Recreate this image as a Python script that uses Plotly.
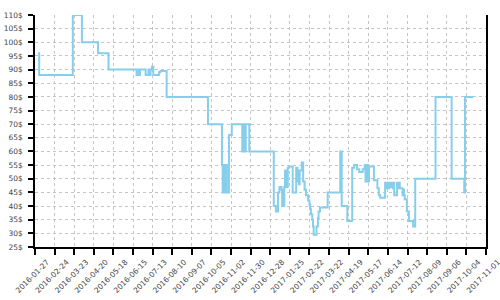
import plotly.graph_objects as go

dates = [
"2016-01-31","2016-02-02","2016-03-21","2016-04-03","2016-04-26","2016-05-11",
"2016-06-20","2016-06-21","2016-06-22","2016-06-23","2016-06-24","2016-06-25",
"2016-07-03","2016-07-07","2016-07-09","2016-07-10","2016-07-12","2016-07-14",
"2016-07-22","2016-07-24","2016-08-02","2016-09-30",
"2016-10-20","2016-10-21","2016-10-22","2016-10-23","2016-10-24","2016-10-25","2016-10-26","2016-10-27",
"2016-10-30","2016-11-03",
"2016-11-18","2016-11-19","2016-11-20","2016-11-21","2016-11-22","2016-11-23","2016-11-28",
"2017-01-02","2017-01-05","2017-01-08","2017-01-10","2017-01-13","2017-01-14","2017-01-15","2017-01-16",
"2017-01-17","2017-01-18","2017-01-19","2017-01-20","2017-01-21","2017-01-22","2017-01-24","2017-01-29",
"2017-02-03","2017-02-05","2017-02-06","2017-02-07","2017-02-08","2017-02-11","2017-02-13","2017-02-15",
"2017-02-17","2017-02-20","2017-02-22","2017-02-23","2017-02-24","2017-02-26","2017-02-27","2017-02-28",
"2017-03-04","2017-03-06","2017-03-07","2017-03-09","2017-03-20","2017-04-07","2017-04-09","2017-04-17",
"2017-04-24","2017-04-27","2017-05-01","2017-05-04","2017-05-09","2017-05-12","2017-05-13","2017-05-14",
"2017-05-15","2017-05-16","2017-05-17","2017-05-18","2017-05-25","2017-05-30","2017-06-01","2017-06-03",
"2017-06-10","2017-06-12","2017-06-13","2017-06-15","2017-06-16","2017-06-18","2017-06-19","2017-06-21",
"2017-06-22","2017-06-23","2017-06-27","2017-06-28","2017-06-29","2017-07-01","2017-07-05","2017-07-06",
"2017-07-07","2017-07-08","2017-07-11","2017-07-14","2017-07-20","2017-07-23","2017-08-21","2017-09-13",
"2017-10-01","2017-10-02","2017-10-14",
]
prices = [
96, 88, 110, 100, 96, 90,
88, 90, 88, 90, 88, 90,
88, 90, 88, 90, 91, 88,
89, 89.5, 80, 70,
55, 45, 55, 45, 55, 45, 55, 45,
66, 70,
60, 70, 60, 70, 60, 70, 60,
40, 38, 45, 47, 46, 40, 46, 40,
47, 53, 47, 53, 47, 54, 54.5, 45,
54, 49, 53, 48, 53, 56, 49, 46,
44, 42, 40.5, 39, 37, 35, 32.5, 29.5,
32.5, 35.5, 38, 39.5, 45, 60, 40, 34.5,
54, 55, 53.5, 52.5, 53.5, 55, 49, 55,
49, 55, 49, 54.5, 49.5, 46.5, 44, 43,
48.5, 46.5, 48.5, 46.5, 48.5, 47, 48.5, 46.5,
48.5, 44, 48.5, 46.5, 48.5, 46.5, 44, 46,
44, 42.5, 38, 34.5, 32.5, 50, 80, 50,
45, 80, 80,
]

x_start = "2016-01-27"
x_end = "2017-11-01 02:00"
y_min, y_max, y_step = 25, 110, 5

font = dict(family="DejaVu Sans", size=7.5, color="#444")
grid = dict(showgrid=True, gridcolor="#c4c4c4", gridwidth=1, griddash="3px,3px")

fig = go.Figure()
fig.add_trace(go.Scatter(x=dates, y=prices, mode="lines", line=dict(shape="hv", color="#87CEEB", width=2),
                         showlegend=False, hoverinfo="skip"))

fig.update_layout(
    width=500, height=300, margin=dict(l=35, r=14, t=15, b=53),
    paper_bgcolor="white", plot_bgcolor="white",
    xaxis=dict(range=[x_start, x_end], tick0=x_start, dtick=28*86400000, tickformat="%Y-%m-%d",
               tickangle=-45, ticks="outside", ticklen=6, tickcolor="black", tickwidth=1.5,
               showline=True, linecolor="black", linewidth=1.5, tickfont=font, automargin=False,
               ticklabelshift=12, ticklabeloverflow="allow", zeroline=False, **grid),
    yaxis=dict(range=[y_min, y_max], tick0=y_min, dtick=y_step, ticksuffix="$",
               ticks="outside", ticklen=5, tickcolor="black", tickwidth=1.5, automargin=False,
               showline=True, linecolor="black", linewidth=1.5, mirror=True, tickfont=font,
               ticklabelstandoff=4, zeroline=False, **grid),
    xaxis2=dict(overlaying="x", anchor="y", side="bottom", range=[x_start, x_end], tick0=x_start,
                dtick=28*86400000, ticks="inside", ticklen=4, tickcolor="black", tickwidth=1.5,
                showticklabels=False, showgrid=False, showline=False, zeroline=False),
    yaxis2=dict(overlaying="y", anchor="x", side="left", range=[y_min, y_max], tick0=y_min, dtick=y_step,
                ticks="inside", ticklen=4, tickcolor="black", tickwidth=1.5,
                showticklabels=False, showgrid=False, showline=False, zeroline=False),
)

fig.write_html("out.html")
